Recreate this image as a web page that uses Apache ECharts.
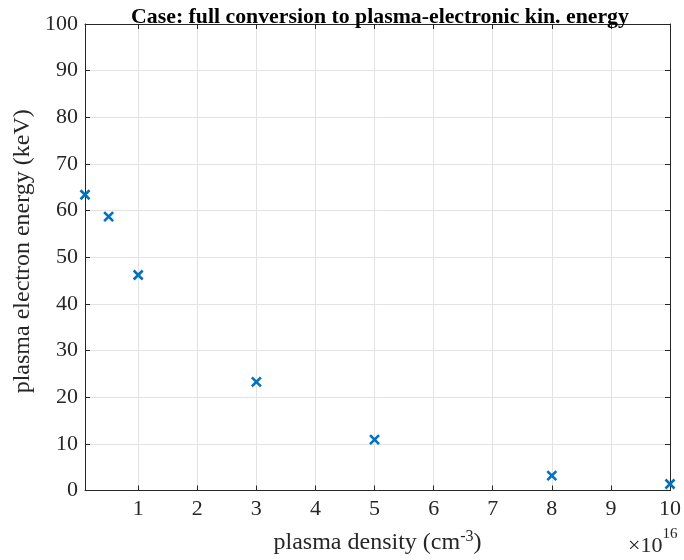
<!DOCTYPE html>
<html><head><meta charset="utf-8">
<script src="https://cdn.jsdelivr.net/npm/echarts@6/dist/echarts.min.js"></script>
<style>html,body{margin:0;padding:0;background:#fff}#c{width:684px;height:560px}</style>
</head><body><div id="c"></div>
<script>
const density = [0.1, 0.5, 1, 3, 5, 8, 10]; // ×1e16 cm^-3
const energy = [63.4, 58.7, 46.2, 23.3, 10.9, 3.2, 1.4]; // keV
const xTicks = [1, 2, 3, 4, 5, 6, 7, 8, 9, 10];
const yTicks = [0, 10, 20, 30, 40, 50, 60, 70, 80, 90, 100];

const FONT = '"Liberation Serif", "DejaVu Serif", serif';
const AX = '#262626';
const chart = echarts.init(document.getElementById('c'));
const xBase = {
  type: 'value', min: 0.1, max: 10,
  axisLine: {show: true, onZero: false, lineStyle: {color: AX, width: 1}},
  axisTick: {show: true, inside: true, length: 5, customValues: xTicks, lineStyle: {color: AX}},
  splitLine: {show: false}
};
const yBase = {
  type: 'value', min: 0, max: 100, interval: 10,
  axisLine: {show: true, onZero: false, lineStyle: {color: AX, width: 1}},
  axisTick: {show: true, inside: true, length: 5, lineStyle: {color: AX}},
  splitLine: {show: false}
};
chart.setOption({
  animation: false,
  backgroundColor: '#fff',
  title: [{
    text: 'Case: full conversion to plasma-electronic kin. energy',
    left: 375, top: 1, textAlign: 'center',
    textStyle: {fontFamily: FONT, fontWeight: 'bold', fontSize: 21.8, color: '#000'}
  }, {
    text: '{a|\u00d710}{s|16}',
    left: 623, top: 522,
    textStyle: {fontWeight: 'normal', rich: {
      a: {fontFamily: FONT, fontSize: 22, fontWeight: 'normal', color: AX, verticalAlign: 'bottom', lineHeight: 30},
      s: {fontFamily: FONT, fontSize: 15, fontWeight: 'normal', color: AX, verticalAlign: 'top', lineHeight: 30, padding: [0,0,16,0]}
    }}
  }],
  grid: {left: 85, right: 5.5, top: 24, bottom: 69.5, containLabel: false},
  xAxis: [Object.assign({}, xBase, {
    position: 'bottom',
    name: '{a|plasma density (cm}{s|-3}{a|)}',
    nameLocation: 'middle', nameGap: 38,
    nameTextStyle: {rich: {
      a: {fontFamily: FONT, fontSize: 24, color: AX},
      s: {fontFamily: FONT, fontSize: 16, color: AX, verticalAlign: 'top', padding: [0,0,13,0]}
    }},
    axisLabel: {show: true, customValues: xTicks, fontFamily: FONT, fontSize: 22, color: AX, margin: 8},
    splitLine: {show: true, lineStyle: {color: '#e3e3e3', width: 1}}
  }), Object.assign({}, xBase, {position: 'top', axisLabel: {show: false}})],
  yAxis: [Object.assign({}, yBase, {
    position: 'left',
    name: 'plasma electron energy (keV)',
    nameLocation: 'middle', nameGap: 50, nameMoveOverlap: false,
    nameTextStyle: {fontFamily: FONT, fontSize: 24, color: AX, padding: [0, 0, 0, 12]},
    axisLabel: {show: true, fontFamily: FONT, fontSize: 22, color: AX, margin: 7, customValues: yTicks},
    splitLine: {show: true, lineStyle: {color: '#e3e3e3', width: 1}}
  }), Object.assign({}, yBase, {position: 'right', axisLabel: {show: false}})],
  series: [{
    type: 'scatter',
    xAxisIndex: 0, yAxisIndex: 0,
    data: density.map((d, i) => [d, energy[i]]),
    symbol: 'path://M0,0L10,10M10,0L0,10',
    symbolSize: 9,
    clip: false,
    itemStyle: {color: '#0072BD', borderColor: '#0072BD', borderWidth: 2.6, opacity: 1}
  }]
});
</script></body></html>
